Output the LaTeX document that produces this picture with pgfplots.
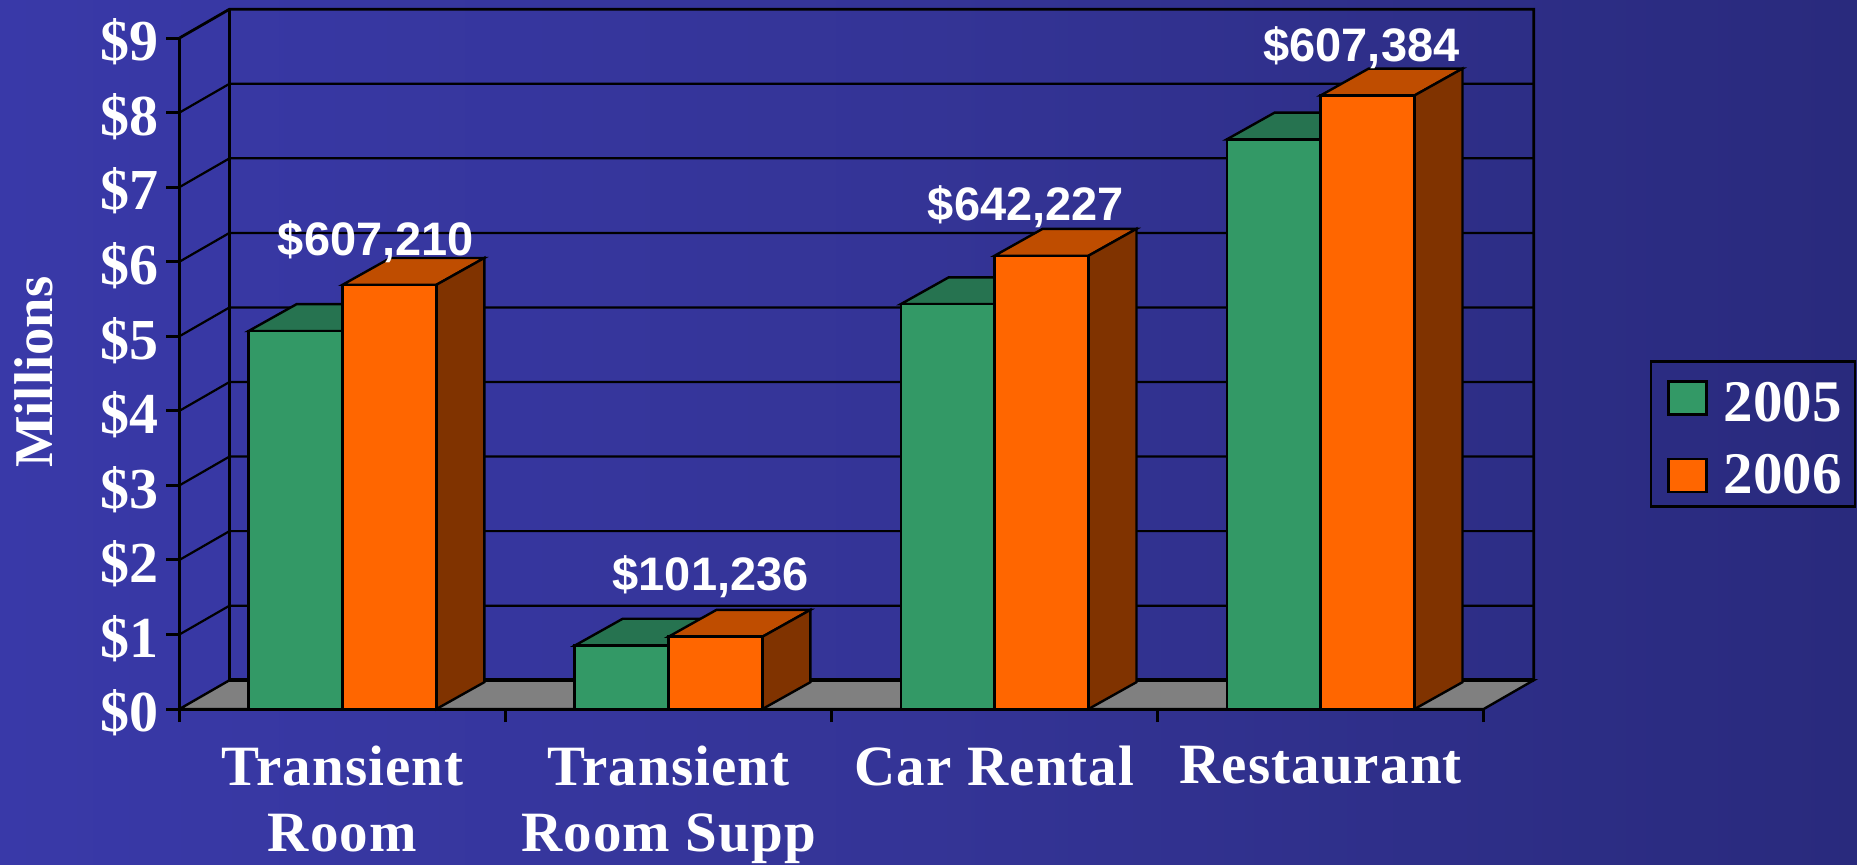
\documentclass[border=0pt]{standalone}
\usepackage{fontspec}
\setmainfont{Liberation Serif}
\newfontfamily\labsans{Liberation Sans}
\newfontfamily\catfont[LetterSpace=2]{Liberation Serif}
\usepackage{pgfplots}
\pgfplotsset{compat=1.18}
\definecolor{bgL}{RGB}{57,57,168}
\definecolor{bgM}{RGB}{52,52,150}
\definecolor{bgR}{RGB}{41,42,125}
\definecolor{gF}{RGB}{51,153,102}
\definecolor{gT}{RGB}{38,115,80}
\definecolor{oF}{RGB}{255,102,0}
\definecolor{oT}{RGB}{191,77,0}
\definecolor{oS}{RGB}{128,51,0}
\begin{document}
\begin{tikzpicture}
\useasboundingbox (-89.75pt,-77.5pt) rectangle (838.75pt,354.5pt);
\shade[left color=bgL,right color=bgR,middle color=bgM] (-89.75pt,-77.5pt) rectangle (838.75pt,354.5pt);
\begin{axis}[
  at={(0pt,0pt)},anchor=origin,
  scale only axis,width=652.1pt,height=335.5pt,
  xmin=0,xmax=4,ymin=0,ymax=9,clip=false,
  axis lines=left,axis line style={-,black,line width=1.5pt},
  axis on top,
  xtick={0,1,2,3,4},xticklabels={},
  ytick={0,1,2,3,4,5,6,7,8,9},
  yticklabels={\$0,\$1,\$2,\$3,\$4,\$5,\$6,\$7,\$8,\$9},
  tick align=outside,major tick length=6.5pt,
  tick style={black,line width=1.5pt},
  yticklabel style={font=\fontsize{29}{29}\selectfont\bfseries,text=white,xshift=-0.5pt,yshift=-2pt},
  extra x ticks={0.5,1.5,2.5,3.5},
  extra x tick labels={{Transient\\Room},{Transient\\Room Supp},{Car Rental},{Restaurant}},
  extra x tick style={tick style={draw=none},
    xticklabel style={font=\fontsize{28.5}{33}\catfont\bfseries,text=white,align=center,anchor=north,yshift=-8.5pt}},
  ylabel={Millions},
  ylabel style={at={(axis description cs:-0.112,0.502)},anchor=center,font=\fontsize{27.3}{27}\selectfont\bfseries,text=white},
  legend style={at={(1.2065,0.41)},anchor=center,fill=none,draw=black,line width=1.3pt,
    font=\fontsize{29.5}{30}\selectfont\bfseries,text=white,row sep=11pt,column sep=6pt,inner xsep=4.6pt,inner ysep=3pt},
  legend cell align=left,
  legimg/.style={legend image code/.code={\path (0pt,0pt); \draw[fill=##1,draw=black,line width=1.3pt] (3.6pt,-8.25pt) rectangle (22.6pt,8.25pt);}},
]
% floor and back wall
\addplot[forget plot,fill=gray,draw=black,line width=1.2pt,mark=none] coordinates {(0,0)(0.1533,0.386)(4.1533,0.386)(4,0)} -- cycle;
\addplot[forget plot,black,line width=1.8pt,mark=none] coordinates {(0.1533,0.386)(4.1533,0.386)};
\addplot[forget plot,black,line width=1.1pt,mark=none] coordinates {(0,1)(0.1533,1.386)(4.1533,1.386)};
\addplot[forget plot,black,line width=1.1pt,mark=none] coordinates {(0,2)(0.1533,2.386)(4.1533,2.386)};
\addplot[forget plot,black,line width=1.1pt,mark=none] coordinates {(0,3)(0.1533,3.386)(4.1533,3.386)};
\addplot[forget plot,black,line width=1.1pt,mark=none] coordinates {(0,4)(0.1533,4.386)(4.1533,4.386)};
\addplot[forget plot,black,line width=1.1pt,mark=none] coordinates {(0,5)(0.1533,5.386)(4.1533,5.386)};
\addplot[forget plot,black,line width=1.1pt,mark=none] coordinates {(0,6)(0.1533,6.386)(4.1533,6.386)};
\addplot[forget plot,black,line width=1.1pt,mark=none] coordinates {(0,7)(0.1533,7.386)(4.1533,7.386)};
\addplot[forget plot,black,line width=1.1pt,mark=none] coordinates {(0,8)(0.1533,8.386)(4.1533,8.386)};
\addplot[forget plot,black,line width=1.4pt,mark=none] coordinates {(0,9)(0.1533,9.386)(4.1533,9.386)(4.1533,0.386)};
\addplot[forget plot,black,line width=1.4pt,mark=none] coordinates {(0.1533,9.386)(0.1533,0.386)};
% 2005 tops
\addplot[forget plot,fill=gT,draw=black,line width=1.2pt,mark=none] coordinates {(0.212,5.07)(0.5,5.07)(0.647,5.43)(0.359,5.43)} -- cycle;
\addplot[forget plot,fill=gT,draw=black,line width=1.2pt,mark=none] coordinates {(1.212,0.85)(1.5,0.85)(1.647,1.21)(1.359,1.21)} -- cycle;
\addplot[forget plot,fill=gT,draw=black,line width=1.2pt,mark=none] coordinates {(2.212,5.43)(2.5,5.43)(2.647,5.79)(2.359,5.79)} -- cycle;
\addplot[forget plot,fill=gT,draw=black,line width=1.2pt,mark=none] coordinates {(3.212,7.64)(3.5,7.64)(3.647,8.0)(3.359,8.0)} -- cycle;
% 2005 fronts
\addplot[ybar,bar width=0.288,bar shift=-0.144,fill=gF,draw=black,line width=1.2pt,legimg=gF] coordinates {(0.5,5.07)(1.5,0.85)(2.5,5.43)(3.5,7.64)};
\addlegendentry{\rule{0pt}{25pt}2005}
% 2006 tops
\addplot[forget plot,fill=oT,draw=black,line width=1.2pt,mark=none] coordinates {(0.5,5.69)(0.788,5.69)(0.935,6.05)(0.647,6.05)} -- cycle;
\addplot[forget plot,fill=oT,draw=black,line width=1.2pt,mark=none] coordinates {(1.5,0.97)(1.788,0.97)(1.935,1.33)(1.647,1.33)} -- cycle;
\addplot[forget plot,fill=oT,draw=black,line width=1.2pt,mark=none] coordinates {(2.5,6.08)(2.788,6.08)(2.935,6.44)(2.647,6.44)} -- cycle;
\addplot[forget plot,fill=oT,draw=black,line width=1.2pt,mark=none] coordinates {(3.5,8.23)(3.788,8.23)(3.935,8.59)(3.647,8.59)} -- cycle;
% 2006 sides
\addplot[forget plot,fill=oS,draw=black,line width=1.2pt,mark=none] coordinates {(0.788,0)(0.788,5.69)(0.935,6.05)(0.935,0.36)} -- cycle;
\addplot[forget plot,fill=oS,draw=black,line width=1.2pt,mark=none] coordinates {(1.788,0)(1.788,0.97)(1.935,1.33)(1.935,0.36)} -- cycle;
\addplot[forget plot,fill=oS,draw=black,line width=1.2pt,mark=none] coordinates {(2.788,0)(2.788,6.08)(2.935,6.44)(2.935,0.36)} -- cycle;
\addplot[forget plot,fill=oS,draw=black,line width=1.2pt,mark=none] coordinates {(3.788,0)(3.788,8.23)(3.935,8.59)(3.935,0.36)} -- cycle;
% 2006 fronts
\addplot[ybar,bar width=0.288,bar shift=0.144,fill=oF,draw=black,line width=1.2pt,legimg=oF] coordinates {(0.5,5.69)(1.5,0.97)(2.5,6.08)(3.5,8.23)};
\addlegendentry{2006}
\node[anchor=base,text=white,font=\fontsize{23.5}{23.5}\labsans\bfseries,inner sep=0pt] at (axis cs:0.6027,6.089) {\$607,210};
\node[anchor=base,text=white,font=\fontsize{23.5}{23.5}\labsans\bfseries,inner sep=0pt] at (axis cs:1.629,1.596) {\$101,236};
\node[anchor=base,text=white,font=\fontsize{23.5}{23.5}\labsans\bfseries,inner sep=0pt] at (axis cs:2.596,6.558) {\$642,227};
\node[anchor=base,text=white,font=\fontsize{23.5}{23.5}\labsans\bfseries,inner sep=0pt] at (axis cs:3.625,8.682) {\$607,384};
\end{axis}
\end{tikzpicture}
\end{document}
